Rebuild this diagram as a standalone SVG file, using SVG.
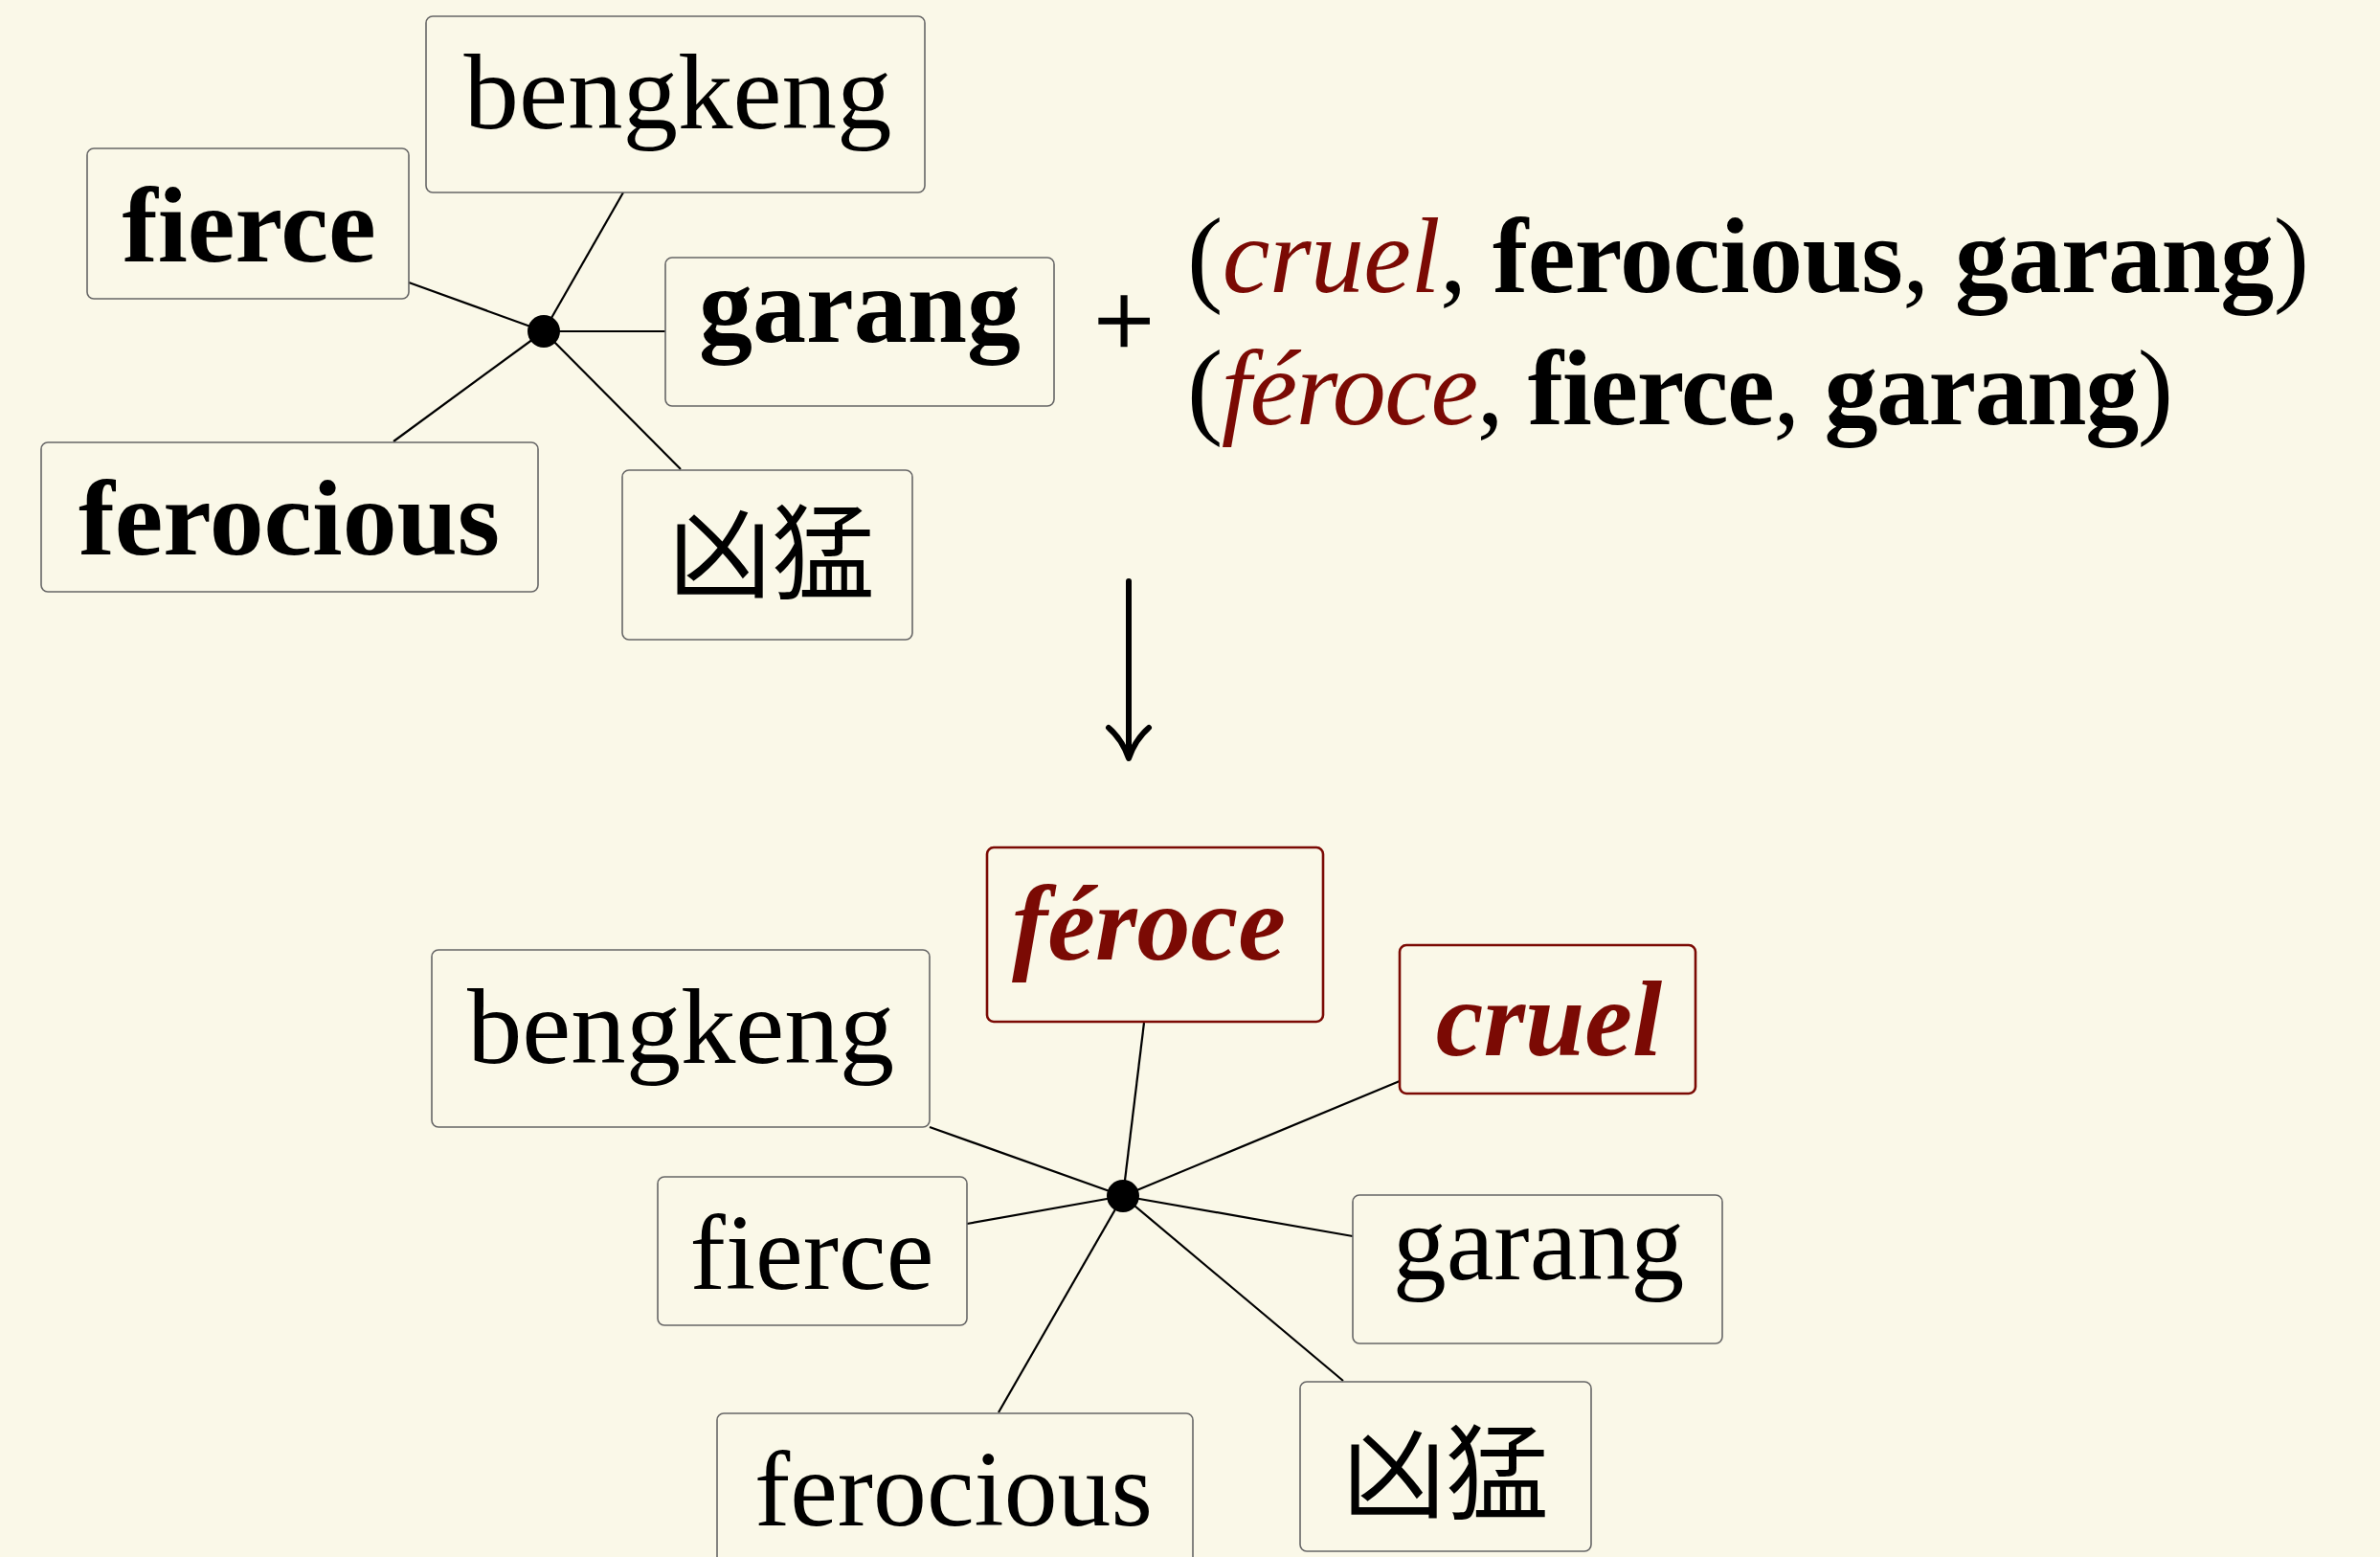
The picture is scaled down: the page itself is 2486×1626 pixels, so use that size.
<svg xmlns="http://www.w3.org/2000/svg" width="2486" height="1626" viewBox="0 0 2486 1626">
<style>
.box{fill:#FAF8E8;stroke:#666;stroke-width:1.6}
.rbox{fill:#FAF8E8;stroke:#7B0A04;stroke-width:2.6}
.t{font-family:"Liberation Serif","Times New Roman",serif;font-size:112px;fill:#000;text-anchor:middle}
.b{font-weight:bold}
.bi{font-weight:bold;font-style:italic;fill:#7B0A04}
.it{font-style:italic;fill:#7B0A04}
.cjk{font-family:"Noto Sans CJK SC","Noto Sans CJK JP",sans-serif;font-size:108px;text-anchor:middle;fill:#000}
.tu{font-family:"Liberation Serif","Times New Roman",serif;font-size:112px;fill:#000}
.c line{stroke:#000;stroke-width:2.2}
</style>
<rect width="2486" height="1626" fill="#FAF8E8"/>
<g class="c" id="connectors">
<line x1="568" y1="346" x2="651" y2="201"/>
<line x1="568" y1="346" x2="427" y2="295"/>
<line x1="568" y1="346" x2="695" y2="346"/>
<line x1="568" y1="346" x2="411" y2="461"/>
<line x1="568" y1="346" x2="711" y2="490"/>
<line x1="1173" y1="1249" x2="1195" y2="1068"/>
<line x1="1173" y1="1249" x2="1462" y2="1129"/>
<line x1="1173" y1="1249" x2="971" y2="1177"/>
<line x1="1173" y1="1249" x2="1010" y2="1278"/>
<line x1="1173" y1="1249" x2="1413" y2="1291"/>
<line x1="1173" y1="1249" x2="1043" y2="1475"/>
<line x1="1173" y1="1249" x2="1403" y2="1442"/>
<line x1="1179" y1="607" x2="1179" y2="788" style="stroke-width:6;stroke-linecap:round"/>
<path d="M1158,760 Q1172,772 1179,792 Q1186,772 1200,760" fill="none" stroke="#000" stroke-width="6" stroke-linecap="round" stroke-linejoin="round"/>
</g>
<g id="hub1"><circle cx="568" cy="346" r="17" fill="#000"/></g>
<g id="hub2"><circle cx="1173" cy="1249" r="17" fill="#000"/></g>
<g id="t-bengkeng"><rect class="box" x="445" y="17" width="521" height="184" rx="7"/><text class="t" x="708" y="134" textLength="447" lengthAdjust="spacingAndGlyphs">bengkeng</text></g>
<g id="t-fierce"><rect class="box" x="91" y="155" width="336" height="157" rx="7"/><text class="t b" x="260" y="273">fierce</text></g>
<g id="t-garang"><rect class="box" x="695" y="269" width="406" height="155" rx="7"/><text class="t b" x="898" y="357">garang</text></g>
<g id="t-ferocious"><rect class="box" x="43" y="462" width="519" height="156" rx="7"/><text class="t b" x="302" y="579" textLength="440" lengthAdjust="spacingAndGlyphs">ferocious</text></g>
<g id="t-xiongmeng"><rect class="box" x="650" y="491" width="303" height="177" rx="7"/><text class="cjk" x="806" y="617">凶猛</text></g>
<g id="plus"><text class="t" x="1174" y="373" style="font-size:112px;stroke:#000;stroke-width:1.5">+</text></g>
<g id="tuple1"><text class="tu" x="1240" y="305" textLength="1172">(<tspan class="it">cruel</tspan>, <tspan class="b">ferocious</tspan>, <tspan class="b">garang</tspan>)</text></g>
<g id="tuple2"><text class="tu" x="1240" y="443" textLength="1030">(<tspan class="it">féroce</tspan>, <tspan class="b">fierce</tspan>, <tspan class="b">garang</tspan>)</text></g>
<g id="b-feroce"><rect class="rbox" x="1031" y="885" width="351" height="182" rx="7"/><text class="t bi" x="1200" y="1002">féroce</text></g>
<g id="b-cruel"><rect class="rbox" x="1462" y="987" width="309" height="155" rx="7"/><text class="t bi" x="1618" y="1102">cruel</text></g>
<g id="b-bengkeng"><rect class="box" x="451" y="992" width="520" height="185" rx="7"/><text class="t" x="711" y="1110" textLength="446" lengthAdjust="spacingAndGlyphs">bengkeng</text></g>
<g id="b-fierce"><rect class="box" x="687" y="1229" width="323" height="155" rx="7"/><text class="t" x="848" y="1346">fierce</text></g>
<g id="b-garang"><rect class="box" x="1413" y="1248" width="386" height="155" rx="7"/><text class="t" x="1607" y="1336">garang</text></g>
<g id="b-ferocious"><rect class="box" x="749" y="1476" width="497" height="160" rx="7"/><text class="t" x="996" y="1593" textLength="416" lengthAdjust="spacingAndGlyphs">ferocious</text></g>
<g id="b-xiongmeng"><rect class="box" x="1358" y="1443" width="304" height="177" rx="7"/><text class="cjk" x="1510" y="1578">凶猛</text></g>
</svg>
